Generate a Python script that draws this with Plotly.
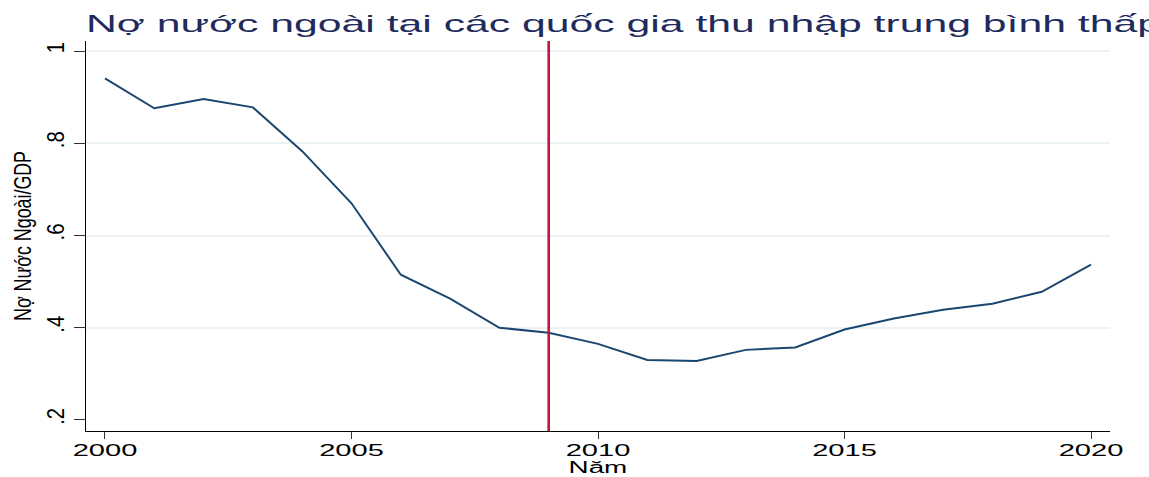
import plotly.graph_objects as go

years = list(range(2000, 2021))
debt_gdp = [0.941, 0.876, 0.896, 0.878, 0.783, 0.670, 0.515, 0.463, 0.400, 0.389,
            0.365, 0.330, 0.328, 0.352, 0.357, 0.396, 0.420, 0.439, 0.452, 0.478, 0.537]
event_year = 2009

x_ticks = [2000, 2005, 2010, 2015, 2020]
y_ticks = [0.2, 0.4, 0.6, 0.8, 1.0]
y_ticktext = [".2", ".4", ".6", ".8", "1"]
grid_vals = [0.4, 0.6, 0.8, 1.0]

title_text = "Nợ nước ngoài tại các quốc gia thu nhập trung bình thấp"
x_title = "Năm"
y_title = "Nợ Nước Ngoài/GDP"

y_range = [0.176, 1.022]
x_range = [1999.615, 2020.385]

font_main = "Liberation Sans, Arial, sans-serif"

fig = go.Figure()
# invisible trace to activate the grid axis
fig.add_trace(go.Scatter(x=[years[0]], y=[debt_gdp[0]], yaxis="y2", mode="markers",
                         marker=dict(opacity=0), showlegend=False, hoverinfo="skip"))
fig.add_trace(go.Scatter(x=years, y=debt_gdp, mode="lines",
                         line=dict(color="#1a476f", width=2),
                         showlegend=False, hoverinfo="skip"))
fig.add_trace(go.Scatter(x=[event_year, event_year], y=y_range, mode="lines",
                         line=dict(color="#c8143c", width=2.6),
                         showlegend=False, hoverinfo="skip"))

fig.update_layout(
    width=1149, height=477,
    margin=dict(l=86, r=39, t=41, b=46, autoexpand=False),
    paper_bgcolor="white", plot_bgcolor="white",
    title=dict(text=title_text, x=86/1149, xanchor="left", y=1-23.5/477, yanchor="middle",
               font=dict(family=font_main, size=24, color="#1e2b5c")),
    xaxis=dict(range=x_range, tickvals=x_ticks, showgrid=False, zeroline=False,
               automargin=False,
               showline=True, linecolor="black", linewidth=1,
               ticks="outside", ticklen=7, tickcolor="#333333", ticklabelstandoff=-3,
               tickfont=dict(family=font_main, size=17, color="black")),
    yaxis=dict(range=y_range, tickvals=y_ticks, ticktext=y_ticktext, tickangle=-90,
               showgrid=False, zeroline=False, automargin=False,
               showline=True, linecolor="black", linewidth=1,
               ticks="outside", ticklen=11, tickcolor="#333333",
               tickfont=dict(family=font_main, size=24, color="black"),
               title=dict(text=y_title, standoff=4,
                          font=dict(family=font_main, size=24, color="black"))),
    yaxis2=dict(range=y_range, overlaying="y", tickvals=grid_vals, showgrid=True,
                gridcolor="#eaf2f3", gridwidth=1.5, showticklabels=False, ticks="",
                zeroline=False, showline=False, automargin=False),
    annotations=[dict(text=x_title, xref="paper", yref="paper", x=0.5, y=-(476.5 - 431) / 390,
                      xanchor="center", yanchor="bottom", showarrow=False, borderpad=0,
                      font=dict(family=font_main, size=16, color="black"))],
)

post = """
document.body.style.margin = '0';
var gd = document.getElementById('{plot_id}');
function stretchSel(sel, factor, fixedLen) {
  gd.querySelectorAll(sel).forEach(function (e) {
    if (e.getAttribute('data-stretched')) return;
    var L = e.getComputedTextLength();
    e.setAttribute('textLength', fixedLen ? fixedLen : L * factor);
    e.setAttribute('lengthAdjust', 'spacingAndGlyphs');
    e.setAttribute('data-stretched', '1');
  });
}
function fitText() {
  stretchSel('text.gtitle', 1, 1075);
  stretchSel('.xtick text', 1.71);
  stretchSel('.annotation-text', 1.74);
  stretchSel('.ytick text', 0.85);
  stretchSel('text.ytitle', 1, 170);
}
fitText();
gd.on('plotly_afterplot', fitText);
setTimeout(fitText, 50);
"""

fig.write_html("out.html", post_script=post, config={"displayModeBar": False})
